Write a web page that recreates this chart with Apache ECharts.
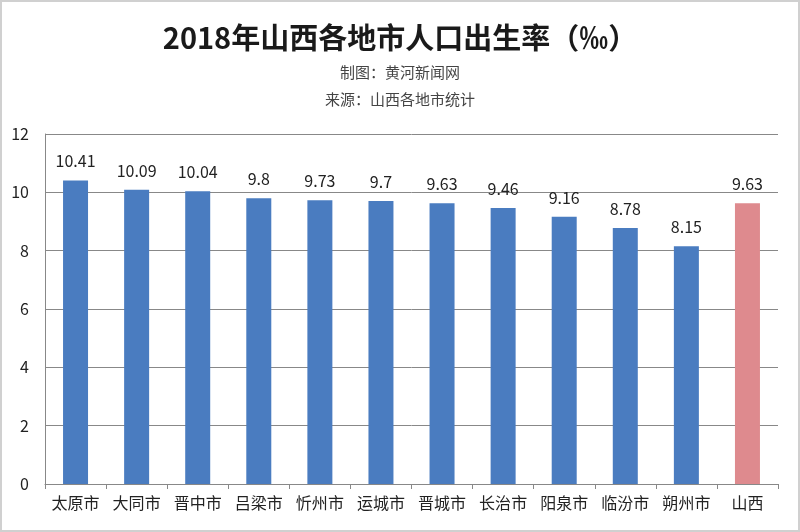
<!DOCTYPE html>
<html>
<head>
<meta charset="utf-8">
<script src="https://cdn.jsdelivr.net/npm/echarts@6/dist/echarts.min.js"></script>
<style>
html,body{margin:0;padding:0;background:#fff;}
#c{width:800px;height:532px;box-sizing:border-box;border:2px solid #d0d0d0;}
</style>
</head>
<body>
<div id="c"></div>
<script>
const categories = ['太原市','大同市','晋中市','吕梁市','忻州市','运城市','晋城市','长治市','阳泉市','临汾市','朔州市','山西'];
const values = [10.41, 10.09, 10.04, 9.8, 9.73, 9.7, 9.63, 9.46, 9.16, 8.78, 8.15, 9.63];
const yTicks = [0, 2, 4, 6, 8, 10, 12];

const chart = echarts.init(document.getElementById('c'));
const font = '"Noto Sans CJK SC", "Noto Sans", sans-serif';
chart.setOption({
  animation: false,
  backgroundColor: '#fff',
  title: [
    {text: '2018年山西各地市人口出生率（‰）', left: 'center', top: 16,
     textStyle: {fontFamily: font, fontSize: 29, fontWeight: 'bold', color: '#1a1a1a'}},
    {text: '制图：黄河新闻网', left: 'center', top: 58,
     textStyle: {fontFamily: font, fontSize: 15, fontWeight: 'normal', color: '#444'}},
    {text: '来源：山西各地市统计', left: 'center', top: 85,
     textStyle: {fontFamily: font, fontSize: 15, fontWeight: 'normal', color: '#444'}}
  ],
  grid: {left: 43, right: 20, top: 132, bottom: 46},
  xAxis: {
    type: 'category', data: categories,
    axisLine: {lineStyle: {color: '#888'}},
    axisTick: {show: true, alignWithLabel: false, length: 5, lineStyle: {color: '#888'}},
    axisLabel: {fontFamily: font, fontSize: 16, color: '#222', margin: 11, interval: 0}
  },
  yAxis: {
    type: 'value', min: yTicks[0], max: yTicks[yTicks.length-1], interval: 2,
    axisLine: {show: true, lineStyle: {color: '#888'}},
    axisTick: {show: false},
    axisLabel: {fontFamily: font, fontSize: 16, color: '#222', margin: 16},
    splitLine: {lineStyle: {color: '#888', width: 1}}
  },
  series: [{
    type: 'bar', data: values.map((v, i) => ({
      value: v,
      itemStyle: {color: i === values.length - 1 ? '#de8a8e' : '#4a7cc0'}
    })),
    barWidth: 25,
    label: {show: true, position: 'top', distance: 11, fontFamily: font, fontSize: 16, color: '#222'}
  }]
});
</script>
</body>
</html>
